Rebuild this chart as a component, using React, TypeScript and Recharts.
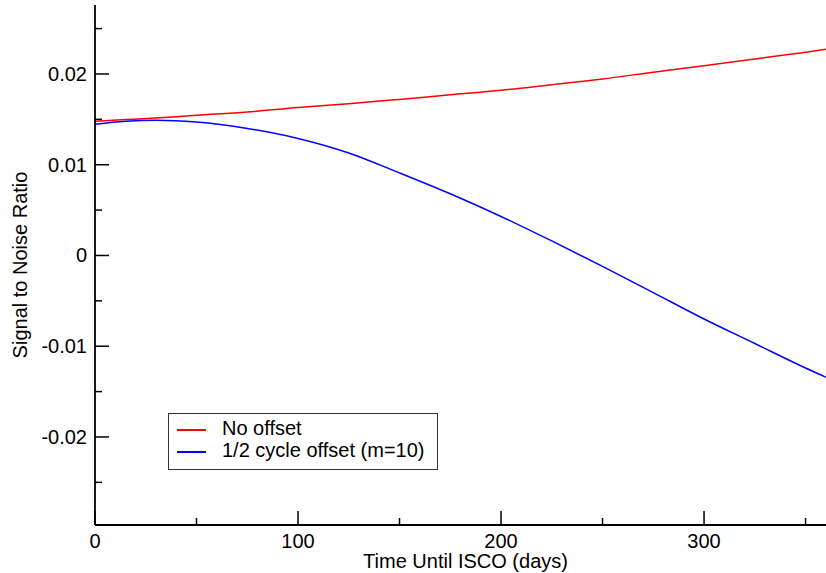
import React from "react";
import { LineChart, Line, XAxis, YAxis, Legend, Label } from "recharts";

// days until ISCO and the two SNR curves
const days = [0, 15, 30, 50, 75, 100, 125, 150, 175, 200, 225, 250, 275, 300, 325, 350, 365];
const noOffset = [
  0.0148, 0.01497, 0.01515, 0.01545, 0.0158, 0.0163, 0.01672, 0.0172, 0.0177,
  0.0182, 0.01882, 0.01945, 0.0202, 0.0209, 0.02165, 0.0224, 0.0229,
];
const halfCycleOffset = [
  0.01445, 0.01478, 0.0149, 0.0147, 0.014, 0.0129, 0.0113, 0.0091, 0.0068,
  0.0043, 0.0016, -0.0012, -0.0041, -0.007, -0.0097, -0.0124, -0.0139,
];
const seriesNames = ["No offset", "1/2 cycle offset (m=10)"];

const xMajorTicks = [0, 100, 200, 300];
const xMinorTicks = [50, 150, 250, 350];
const yMajorTicks = [-0.02, -0.01, 0, 0.01, 0.02];
const yMajorLabels = ["-0.02", "-0.01", "0", "0.01", "0.02"];
const yMinorTicks = [-0.025, -0.015, -0.005, 0.005, 0.015, 0.025];

const data = days.map((day, i) => ({
  day,
  noOffset: noOffset[i],
  halfCycle: halfCycleOffset[i],
}));

const FONT = "'Liberation Sans', Arial, Helvetica, sans-serif";
const MAJOR = 14;
const MINOR = 7;
const AXIS_W = 1.8;

const majorIndex = (list: number[], v: number) =>
  list.findIndex((t) => Math.abs(t - v) < 1e-9);

function LeftTick({ x, y, payload }: any) {
  const i = majorIndex(yMajorTicks, payload.value);
  const len = i >= 0 ? MAJOR : MINOR;
  return (
    <g>
      <line x1={x} x2={x + len} y1={y} y2={y} stroke="#000" strokeWidth={1.5} />
      {i >= 0 && (
        <text x={x - 8} y={y + 7} textAnchor="end" fontSize={20} fontFamily={FONT} fill="#000">
          {yMajorLabels[i]}
        </text>
      )}
    </g>
  );
}

function RightTick({ x, y, payload }: any) {
  const len = majorIndex(yMajorTicks, payload.value) >= 0 ? MAJOR : MINOR;
  return <line x1={x - len} x2={x} y1={y} y2={y} stroke="#000" strokeWidth={1.5} />;
}

function BottomTick({ x, y, payload }: any) {
  const major = majorIndex(xMajorTicks, payload.value) >= 0;
  return (
    <g>
      <line x1={x} x2={x} y1={y} y2={y - (major ? MAJOR : MINOR)} stroke="#000" strokeWidth={1.5} />
      {major && (
        <text x={x} y={y + 23} textAnchor="middle" fontSize={20} fontFamily={FONT} fill="#000">
          {payload.value}
        </text>
      )}
    </g>
  );
}

function TopTick({ x, y, payload }: any) {
  const len = majorIndex(xMajorTicks, payload.value) >= 0 ? MAJOR : MINOR;
  return <line x1={x} x2={x} y1={y} y2={y + len} stroke="#000" strokeWidth={1.5} />;
}

function LegendBox({ payload }: any) {
  // keep the plotting order, recharts may hand them back sorted
  const items = [...(payload || [])].sort(
    (a: any, b: any) => seriesNames.indexOf(a.value) - seriesNames.indexOf(b.value)
  );
  return (
    <div
      style={{
        width: 268,
        height: 55,
        border: "1.5px solid #333",
        background: "#fff",
        position: "relative",
        fontFamily: FONT,
        fontSize: 20,
        color: "#000",
      }}
    >
      {items.map((p: any, i: number) => (
        <div key={p.value} style={{ position: "absolute", left: 0, top: 4 + i * 22, height: 22, width: "100%" }}>
          <div style={{ position: "absolute", left: 8, top: 11, width: 29, height: 1.5, background: p.color }} />
          <div style={{ position: "absolute", left: 53, top: -2, lineHeight: "24px", whiteSpace: "nowrap" }}>
            {p.value}
          </div>
        </div>
      ))}
    </div>
  );
}

export default function App() {
  const xTicks = [...xMajorTicks, ...xMinorTicks].sort((a, b) => a - b);
  const yTicks = [...yMajorTicks, ...yMinorTicks].sort((a, b) => a - b);
  const xDomain: [number, number] = [0, 365];
  const yDomain: [number, number] = [-0.0297, 0.0276];

  return (
    <div style={{ position: "absolute", left: 0, top: 0, width: 826, height: 573, overflow: "hidden", background: "#fff" }}>
      <LineChart width={850} height={573} data={data} margin={{ top: 5, right: 14, bottom: 0, left: 0 }}>
        <XAxis
          xAxisId="bottom"
          dataKey="day"
          type="number"
          domain={xDomain}
          ticks={xTicks}
          interval={0}
          allowDataOverflow
          height={48}
          tickSize={0}
          tickMargin={0}
          tickLine={false}
          axisLine={{ stroke: "#000", strokeWidth: AXIS_W }}
          tick={<BottomTick />}
        >
          <Label
            content={({ viewBox }: any) => (
              <text
                x={viewBox.x + viewBox.width / 2}
                y={viewBox.y + 43}
                textAnchor="middle"
                fontSize={20}
                fontFamily={FONT}
                fill="#000"
              >
                Time Until ISCO (days)
              </text>
            )}
          />
        </XAxis>
        <XAxis
          xAxisId="top"
          orientation="top"
          dataKey="day"
          type="number"
          domain={xDomain}
          ticks={xTicks}
          interval={0}
          allowDataOverflow
          height={0}
          tickSize={0}
          tickMargin={0}
          tickLine={false}
          axisLine={{ stroke: "#000", strokeWidth: AXIS_W }}
          tick={<TopTick />}
        />
        <YAxis
          yAxisId="left"
          type="number"
          domain={yDomain}
          ticks={yTicks}
          interval={0}
          allowDataOverflow
          width={95}
          tickSize={0}
          tickMargin={0}
          tickLine={false}
          axisLine={{ stroke: "#000", strokeWidth: AXIS_W }}
          tick={<LeftTick />}
        >
          <Label
            content={({ viewBox }: any) => {
              const cx = viewBox.x + 27;
              const cy = viewBox.y + viewBox.height / 2;
              return (
                <text
                  x={cx}
                  y={cy}
                  transform={`rotate(-90 ${cx} ${cy})`}
                  textAnchor="middle"
                  fontSize={20}
                  fontFamily={FONT}
                  fill="#000"
                >
                  Signal to Noise Ratio
                </text>
              );
            }}
          />
        </YAxis>
        <YAxis
          yAxisId="right"
          orientation="right"
          type="number"
          domain={yDomain}
          ticks={yTicks}
          interval={0}
          allowDataOverflow
          width={0}
          tickSize={0}
          tickMargin={0}
          tickLine={false}
          axisLine={{ stroke: "#000", strokeWidth: AXIS_W }}
          tick={<RightTick />}
        />
        <Legend
          layout="horizontal"
          verticalAlign="middle"
          align="center"
          wrapperStyle={{ position: "absolute", left: 168, top: 413, width: "auto", height: "auto" }}
          content={<LegendBox />}
        />
        <Line
          xAxisId="bottom"
          yAxisId="left"
          type="monotone"
          dataKey="noOffset"
          name={seriesNames[0]}
          stroke="#ff0000"
          strokeWidth={1.5}
          dot={false}
          isAnimationActive={false}
        />
        <Line
          xAxisId="bottom"
          yAxisId="left"
          type="monotone"
          dataKey="halfCycle"
          name={seriesNames[1]}
          stroke="#0000ff"
          strokeWidth={1.5}
          dot={false}
          isAnimationActive={false}
        />
      </LineChart>
    </div>
  );
}
